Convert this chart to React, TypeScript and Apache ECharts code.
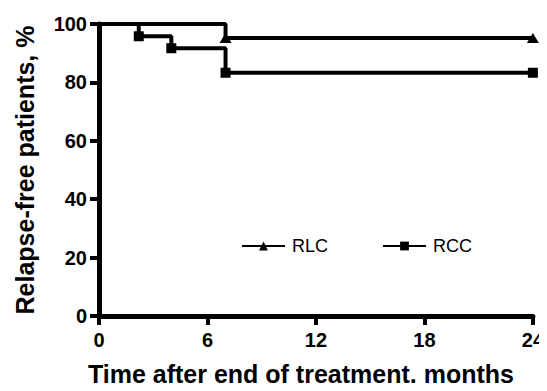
import React, { useEffect, useRef } from "react";
import * as echarts from "echarts";

const xTicks = [0, 6, 12, 18, 24];
const rlcTime = [0, 7, 24];
const rlcValue = [100, 95.2, 95.2];
const rccTime = [0, 2.2, 4, 7, 24];
const rccValue = [100, 95.8, 91.7, 83.3, 83.3];

const FONT = "'Liberation Sans', Arial, sans-serif";

function build(times: number[], values: number[]) {
  return times.map((t, i) =>
    i === 0 ? { value: [t, values[i]], symbol: "none" } : { value: [t, values[i]] }
  );
}

export default function App() {
  const ref = useRef<HTMLDivElement>(null);
  useEffect(() => {
    if (!ref.current) return;
    const chart = echarts.init(ref.current, undefined, { renderer: "svg" });
    chart.setOption({
      animation: false,
      backgroundColor: "#ffffff",
      grid: { left: 99, right: 12, top: 24, bottom: 70 },
      legend: {
        left: 241,
        top: 237,
        padding: 0,
        itemWidth: 43,
        itemHeight: 11,
        itemGap: 54,
        textStyle: { fontFamily: FONT, fontSize: 18, color: "#000", padding: [0, 0, 0, 2] },
        data: ["RLC", "RCC"],
      },
      xAxis: {
        type: "value",
        min: 0,
        max: 24,
        interval: 6,
        name: "Time after end of treatment, months",
        nameLocation: "middle",
        nameGap: 45,
        nameTextStyle: {
          fontFamily: FONT,
          fontSize: 25,
          fontWeight: "bold",
          color: "#000",
          padding: [0, 30, 0, 0],
        },
        axisLine: { show: true, lineStyle: { color: "#000", width: 5 } },
        axisTick: { show: true, length: 9, lineStyle: { color: "#000", width: 4 } },
        axisLabel: {
          fontFamily: FONT,
          fontSize: 20,
          fontWeight: "bold",
          color: "#000",
          margin: 14,
          formatter: (v: number) => (xTicks.includes(v) ? String(v) : ""),
        },
        splitLine: { show: false },
      },
      yAxis: {
        type: "value",
        min: 0,
        max: 100,
        interval: 20,
        name: "Relapse-free patients, %",
        nameLocation: "middle",
        nameGap: 62,
        nameRotate: 90,
        nameTextStyle: { fontFamily: FONT, fontSize: 25, fontWeight: "bold", color: "#000" },
        axisLine: { show: true, lineStyle: { color: "#000", width: 5 } },
        axisTick: { show: true, length: 9, lineStyle: { color: "#000", width: 4 } },
        axisLabel: {
          fontFamily: FONT,
          fontSize: 20,
          fontWeight: "bold",
          color: "#000",
          margin: 12,
        },
        splitLine: { show: false },
      },
      series: [
        {
          name: "RLC",
          type: "line",
          step: "end",
          data: build(rlcTime, rlcValue),
          symbol: "triangle",
          symbolSize: [12, 10],
          itemStyle: { color: "#000" },
          lineStyle: { color: "#000", width: 4 },
          showAllSymbol: true,
        },
        {
          name: "RCC",
          type: "line",
          step: "end",
          data: build(rccTime, rccValue),
          symbol: "rect",
          symbolSize: 10,
          itemStyle: { color: "#000" },
          lineStyle: { color: "#000", width: 4 },
          showAllSymbol: true,
        },
      ],
    });
    return () => chart.dispose();
  }, []);
  return <div ref={ref} style={{ width: 547, height: 391, margin: -8 }} />;
}
